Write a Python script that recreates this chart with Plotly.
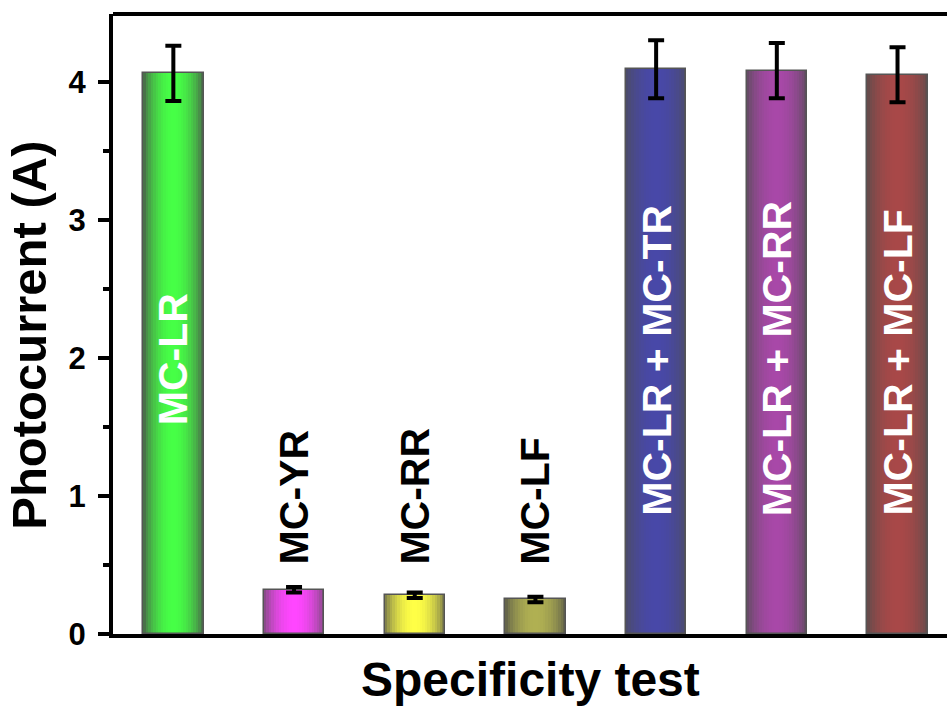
import math
import plotly.graph_objects as go

# Samples and measured photocurrent (mean ± error)
categories = ["MC-LR", "MC-YR", "MC-RR", "MC-LF",
              "MC-LR + MC-TR", "MC-LR + MC-RR", "MC-LR + MC-LF"]
photocurrent = [4.06, 0.32, 0.28, 0.25, 4.09, 4.08, 4.05]
error = [0.20, 0.02, 0.02, 0.02, 0.21, 0.20, 0.20]

# Bar colours: bright centre and shaded edge (cylinder-like gradient)
center_colors = [(70, 255, 70), (255, 70, 255), (255, 255, 70), (176, 176, 82),
                 (72, 72, 168), (168, 72, 168), (168, 72, 72)]
edge_colors = [(74, 90, 74), (118, 76, 118), (108, 108, 76), (88, 88, 72),
               (76, 76, 98), (92, 76, 92), (92, 76, 76)]
label_colors = ["white", "black", "black", "black", "white", "white", "white"]
label_base = [1.5, 0.49, 0.49, 0.49, 0.84, 0.84, 0.84]

FONT = "Liberation Sans, Arial, sans-serif"
BAR_W = 0.5
N_STRIPS = 24

x = list(range(1, len(categories) + 1))

fig = go.Figure()

# Gradient fill: each bar is built from narrow vertical strips
for k in range(N_STRIPS):
    t = (k + 0.5) / N_STRIPS
    f = math.sin(math.pi * t) ** 0.7
    cols = []
    for c, e in zip(center_colors, edge_colors):
        r, g, b = (round(e[i] + f * (c[i] - e[i])) for i in range(3))
        cols.append(f"rgb({r},{g},{b})")
    fig.add_trace(go.Bar(
        x=x, y=photocurrent,
        width=BAR_W / N_STRIPS,
        offset=-BAR_W / 2 + k * BAR_W / N_STRIPS,
        marker=dict(color=cols, line=dict(width=0)),
        showlegend=False, hoverinfo="skip",
    ))

# Outline and error bars on top
fig.add_trace(go.Bar(
    x=x, y=photocurrent, width=BAR_W,
    marker=dict(color="rgba(0,0,0,0)", line=dict(color="#555555", width=1.5)),
    error_y=dict(type="data", array=error, visible=True,
                 color="black", thickness=4, width=8),
    showlegend=False,
))

# Vertical sample labels
for xi, name, yb, col in zip(x, categories, label_base, label_colors):
    fig.add_annotation(
        x=xi, y=yb, xref="x", yref="y", text=name, showarrow=False,
        textangle=-90, xanchor="center", yanchor="bottom",
        font=dict(family=FONT, size=41, color=col, weight="bold"),
    )

# Axis titles
fig.add_annotation(
    x=0.5, y=-0.074, xref="paper", yref="paper", text="Specificity test",
    showarrow=False, xanchor="center", yanchor="middle",
    font=dict(family=FONT, size=48, color="black", weight="bold"),
)
fig.add_annotation(
    x=-0.1, y=0.482, xref="paper", yref="paper", text="Photocurrent (A)",
    showarrow=False, textangle=-90, xanchor="center", yanchor="middle",
    font=dict(family=FONT, size=49, color="black", weight="bold"),
)

# Top frame line
fig.add_shape(type="line", xref="paper", yref="paper", x0=0, x1=1, y0=1, y1=1,
              line=dict(color="black", width=4))

fig.update_layout(
    width=947, height=709,
    margin=dict(l=113, r=0, t=14, b=75),
    paper_bgcolor="white", plot_bgcolor="white",
    barmode="overlay", bargap=0,
    xaxis=dict(range=[0.5, 7.41], showgrid=False, zeroline=False,
               showline=True, linecolor="black", linewidth=4,
               ticks="", showticklabels=False),
    yaxis=dict(range=[0, 4.49], showgrid=False, zeroline=False,
               showline=True, linecolor="black", linewidth=4,
               tickvals=[0, 1, 2, 3, 4], ticktext=["0", "1", "2", "3", "4"],
               ticks="outside", ticklen=11, tickwidth=4, tickcolor="black",
               ticklabelstandoff=6,
               tickfont=dict(family=FONT, size=31, color="black", weight="bold"),
               minor=dict(tickvals=[0.5, 1.5, 2.5, 3.5], ticks="outside",
                          ticklen=6, tickwidth=4, tickcolor="black")),
)

fig.write_html("out.html")
